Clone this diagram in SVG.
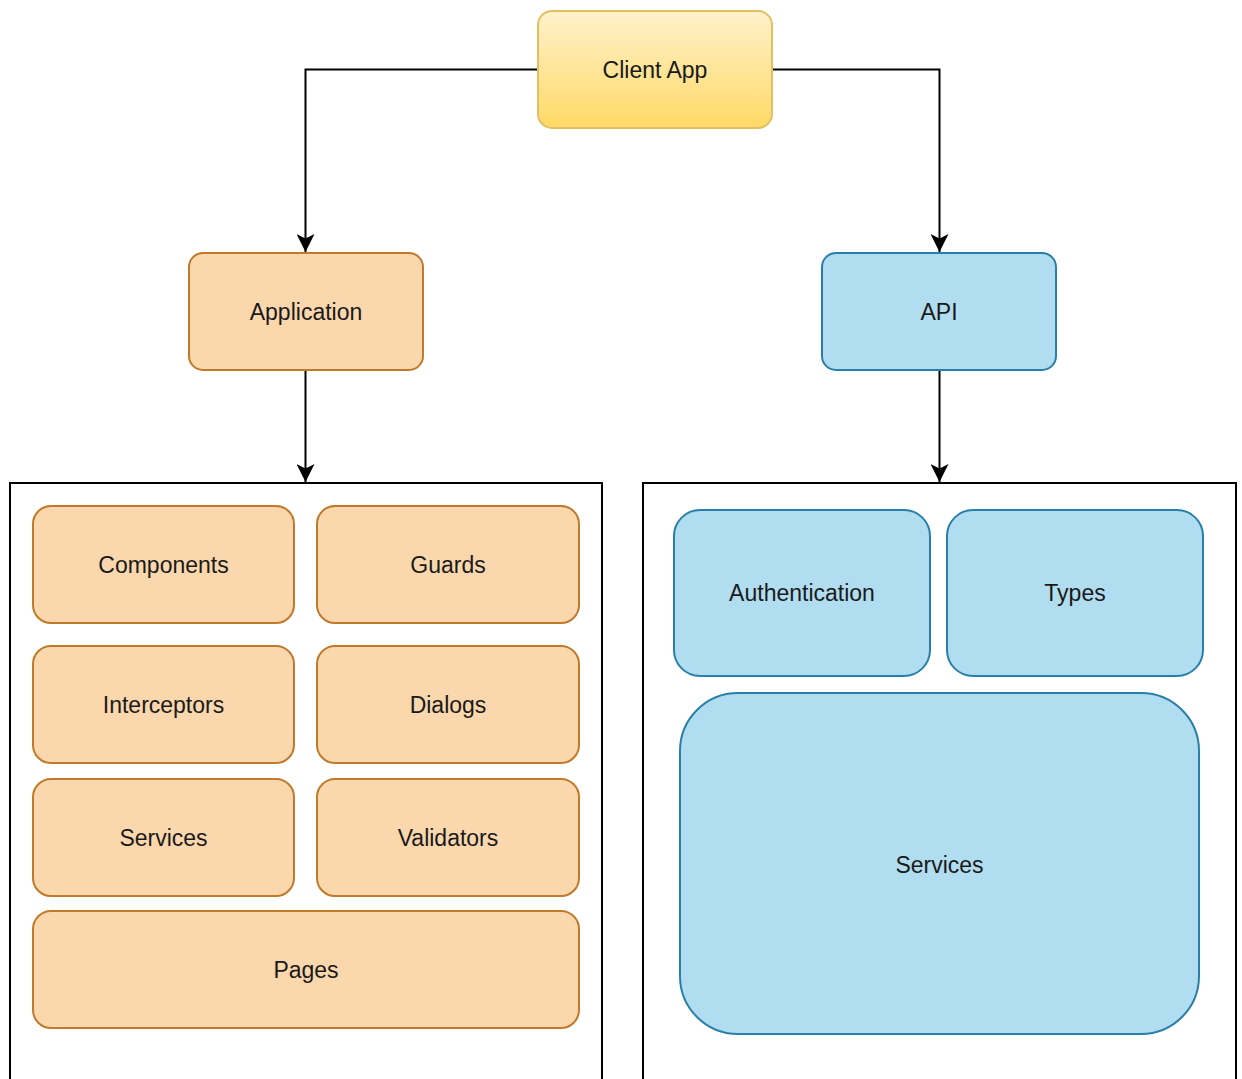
<svg xmlns="http://www.w3.org/2000/svg" width="1242" height="1079" viewBox="0 0 1242 1079">
  <defs>
    <linearGradient id="gradClient" x1="0" y1="0" x2="0" y2="1">
      <stop offset="0" stop-color="#fff2cc"/>
      <stop offset="1" stop-color="#ffd966"/>
    </linearGradient>
    <marker id="arrow" viewBox="0 0 18 18" refX="18" refY="9" markerWidth="18" markerHeight="18" markerUnits="userSpaceOnUse" orient="auto">
      <path d="M0,0 L18,9 L0,18 L4.5,9 Z" fill="#000"/>
    </marker>
  </defs>
  <style>
    .label { font-family: "Liberation Sans", Arial, sans-serif; font-size: 23px; fill: #1a1a1a; text-anchor: middle; dominant-baseline: central; }
    .orange { fill: #fad7ac; stroke: #c07a2a; stroke-width: 2; }
    .blue { fill: #b1ddf0; stroke: #2a7fa8; stroke-width: 2; }
    .client { fill: url(#gradClient); stroke: #e0c060; stroke-width: 2; }
    .container { fill: #fff; stroke: #000; stroke-width: 2; }
    .edge { fill: none; stroke: #000; stroke-width: 2; }
  </style>
  <rect width="1242" height="1079" fill="#fff"/>

  <!-- layer containers -->
  <g id="app-container">
    <path class="container" d="M10,1082 L10,483 L602,483 L602,1082"/>
  </g>
  <g id="api-container">
    <path class="container" d="M643,1082 L643,483 L1236,483 L1236,1082"/>
  </g>

  <!-- connectors -->
  <g id="connectors">
    <path class="edge" d="M538,69.5 L305.5,69.5 L305.5,252" marker-end="url(#arrow)"/>
    <path class="edge" d="M772,69.5 L939.5,69.5 L939.5,252" marker-end="url(#arrow)"/>
    <path class="edge" d="M305.5,370 L305.5,482" marker-end="url(#arrow)"/>
    <path class="edge" d="M939.5,370 L939.5,482" marker-end="url(#arrow)"/>
  </g>

  <g id="client-app">
    <rect class="client" x="538" y="11" width="234" height="117" rx="14"/>
    <text class="label" x="655" y="69.5">Client App</text>
  </g>
  <g id="application">
    <rect class="orange" x="189" y="253" width="234" height="117" rx="14"/>
    <text class="label" x="306" y="311.5">Application</text>
  </g>
  <g id="api">
    <rect class="blue" x="822" y="253" width="234" height="117" rx="14"/>
    <text class="label" x="939" y="311.5">API</text>
  </g>

  <!-- application modules -->
  <g id="components">
    <rect class="orange" x="33" y="506" width="261" height="117" rx="18"/>
    <text class="label" x="163.5" y="564.5">Components</text>
  </g>
  <g id="guards">
    <rect class="orange" x="317" y="506" width="262" height="117" rx="18"/>
    <text class="label" x="448" y="564.5">Guards</text>
  </g>
  <g id="interceptors">
    <rect class="orange" x="33" y="646" width="261" height="117" rx="18"/>
    <text class="label" x="163.5" y="704.5">Interceptors</text>
  </g>
  <g id="dialogs">
    <rect class="orange" x="317" y="646" width="262" height="117" rx="18"/>
    <text class="label" x="448" y="704.5">Dialogs</text>
  </g>
  <g id="app-services">
    <rect class="orange" x="33" y="779" width="261" height="117" rx="18"/>
    <text class="label" x="163.5" y="837.5">Services</text>
  </g>
  <g id="validators">
    <rect class="orange" x="317" y="779" width="262" height="117" rx="18"/>
    <text class="label" x="448" y="837.5">Validators</text>
  </g>
  <g id="pages">
    <rect class="orange" x="33" y="911" width="546" height="117" rx="18"/>
    <text class="label" x="306" y="969.5">Pages</text>
  </g>

  <!-- api modules -->
  <g id="authentication">
    <rect class="blue" x="674" y="510" width="256" height="166" rx="26"/>
    <text class="label" x="802" y="593">Authentication</text>
  </g>
  <g id="types">
    <rect class="blue" x="947" y="510" width="256" height="166" rx="26"/>
    <text class="label" x="1075" y="593">Types</text>
  </g>
  <g id="api-services">
    <rect class="blue" x="680" y="693" width="519" height="341" rx="58"/>
    <text class="label" x="939.5" y="865">Services</text>
  </g>
</svg>
